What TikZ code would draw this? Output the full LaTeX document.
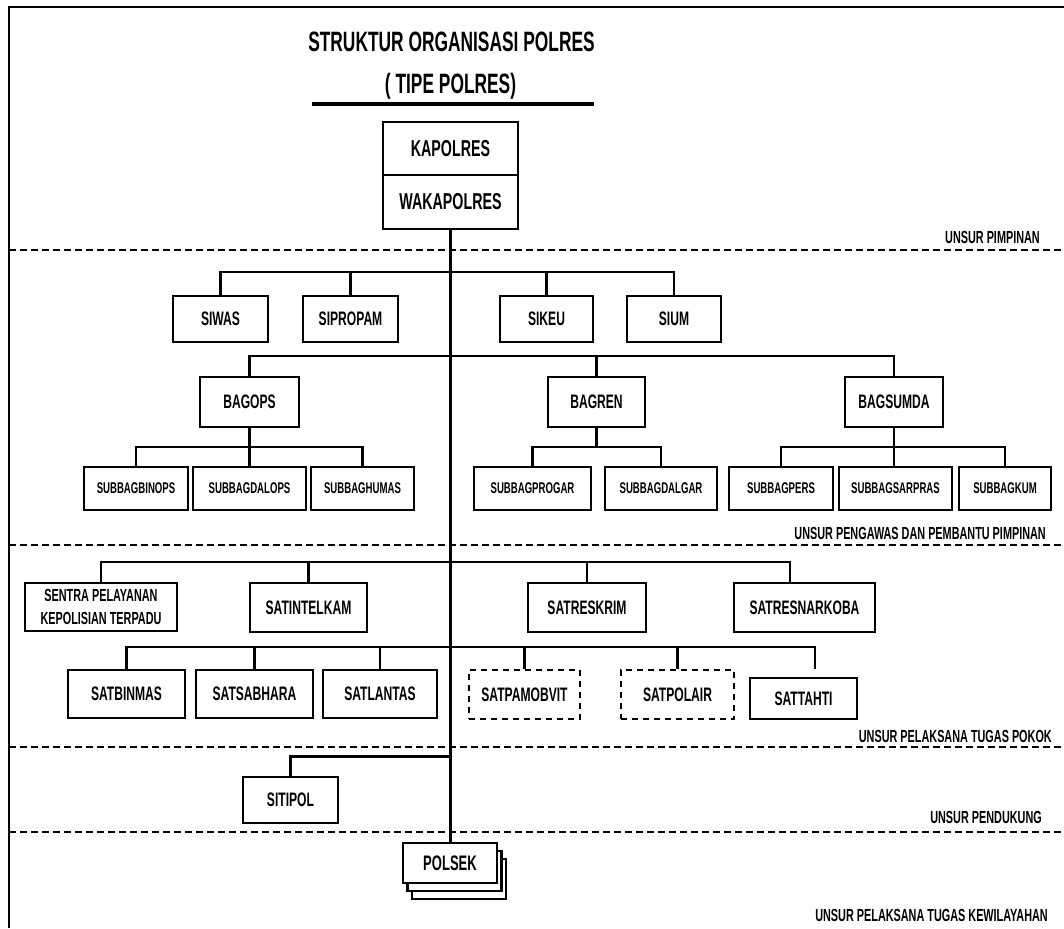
\documentclass[tikz,border=0pt]{standalone}
\usepackage{fontspec}
\setmainfont{Liberation Sans}[FakeStretch=0.62]
\begin{document}
\begin{tikzpicture}[x=1pt,y=-1pt,
  box/.style={draw, line width=2.6pt, inner sep=0pt, align=center, fill=white,
    font=\bfseries\fontsize{19.5}{21}\selectfont},
  sbox/.style={box, minimum height=43pt, font=\bfseries\fontsize{15.5}{17}\selectfont},
  dbox/.style={box, dash pattern=on 6pt off 5pt, line width=2.2pt},
  conn/.style={line width=2.2pt},
  sep/.style={line width=2pt, dash pattern=on 7pt off 4pt},
  unsur/.style={anchor=east, inner sep=0pt, font=\bfseries\fontsize{17.5}{19}\selectfont},
  titlef/.style={inner sep=0pt, font=\bfseries\fontsize{28}{30}\selectfont}]
\useasboundingbox (0,0) rectangle (1064,928);
% frame
\coordinate (fbl) at (9,928);
\coordinate (ftl) at (9,7);
\coordinate (ftr) at (1064,7);
\draw[line width=2.5pt] (fbl) -- (ftl) -- (ftr);
% title
\node[titlef] (title1) at (451.5,42) {STRUKTUR ORGANISASI POLRES};
\node[titlef] (title2) at (450.5,86) {( TIPE POLRES)};
\coordinate (ul1) at (312,104);
\coordinate (ul2) at (594,104);
\draw[line width=3.5pt] (ul1) -- (ul2);
% separators
\foreach \yy/\nm in {250/s1,545/s2,747/s3,832/s4}{
  \coordinate (\nm l) at (9,\yy);
  \coordinate (\nm r) at (1064,\yy);
  \draw[sep] (\nm l) -- (\nm r);
}
\node[unsur] (u1) at (1040,237) {UNSUR PIMPINAN};
\node[unsur] (u2) at (1046,533) {UNSUR PENGAWAS DAN PEMBANTU PIMPINAN};
\node[unsur] (u3) at (1052,736) {UNSUR PELAKSANA TUGAS POKOK};
\node[unsur] (u4) at (1042,817) {UNSUR PENDUKUNG};
\node[unsur] (u5) at (1048,915) {UNSUR PELAKSANA TUGAS KEWILAYAHAN};
% head
\node[box, minimum width=135pt, minimum height=53pt, font=\bfseries\fontsize{23}{25}\selectfont] (kap) at (450.5,148.5) {KAPOLRES};
\node[box, minimum width=135pt, minimum height=54pt, font=\bfseries\fontsize{23}{25}\selectfont] (waka) at (450.5,202) {WAKAPOLRES};
% row 1
\node[box, minimum width=95pt, minimum height=46pt] (siwas) at (220.5,319) {SIWAS};
\node[box, minimum width=95pt, minimum height=46pt] (sipropam) at (350.5,319) {SIPROPAM};
\node[box, minimum width=93pt, minimum height=46pt] (sikeu) at (546.5,319) {SIKEU};
\node[box, minimum width=94pt, minimum height=46pt] (sium) at (674,319) {SIUM};
% row 2
\node[box, minimum width=99pt, minimum height=50pt] (bagops) at (249.5,402) {BAGOPS};
\node[box, minimum width=97pt, minimum height=50pt] (bagren) at (596.5,402) {BAGREN};
\node[box, minimum width=98pt, minimum height=50pt] (bagsumda) at (894,402) {BAGSUMDA};
% subbag
\node[sbox, minimum width=104pt] (binops) at (136,488.5) {SUBBAGBINOPS};
\node[sbox, minimum width=113pt] (dalops) at (249.5,488.5) {SUBBAGDALOPS};
\node[sbox, minimum width=103pt] (humas) at (362.5,488.5) {SUBBAGHUMAS};
\node[sbox, minimum width=117pt] (progar) at (532.5,488.5) {SUBBAGPROGAR};
\node[sbox, minimum width=112pt] (dalgar) at (661,488.5) {SUBBAGDALGAR};
\node[sbox, minimum width=104pt] (pers) at (781,488.5) {SUBBAGPERS};
\node[sbox, minimum width=113pt] (sarpras) at (895.5,488.5) {SUBBAGSARPRAS};
\node[sbox, minimum width=92pt] (kum) at (1005,488.5) {SUBBAGKUM};
% row 3
\node[box, minimum width=152pt, minimum height=48pt, font=\bfseries\fontsize{17.5}{23}\selectfont] (sentra) at (101,607) {SENTRA PELAYANAN\\KEPOLISIAN TERPADU};
\node[box, minimum width=117pt, minimum height=49pt] (intel) at (308.5,607.5) {SATINTELKAM};
\node[box, minimum width=118pt, minimum height=49pt] (reskrim) at (587,607.5) {SATRESKRIM};
\node[box, minimum width=141pt, minimum height=49pt] (narkoba) at (804.5,607.5) {SATRESNARKOBA};
% row 4
\node[box, minimum width=117pt, minimum height=48pt] (binmas) at (126.5,694) {SATBINMAS};
\node[box, minimum width=117pt, minimum height=48pt] (sabhara) at (254.5,694) {SATSABHARA};
\node[box, minimum width=114pt, minimum height=48pt] (lantas) at (380,694) {SATLANTAS};
\node[dbox, minimum width=111pt, minimum height=49pt] (pamobvit) at (524.5,694.5) {SATPAMOBVIT};
\node[dbox, minimum width=113pt, minimum height=49pt] (polair) at (677.5,694.5) {SATPOLAIR};
\node[box, minimum width=107pt, minimum height=41pt] (tahti) at (803.5,698.5) {SATTAHTI};
% sitipol
\node[box, minimum width=95pt, minimum height=46pt] (sitipol) at (290.5,800) {SITIPOL};
% polsek stack
\node[box, line width=2.2pt, minimum width=94pt, minimum height=40pt] (polsekc) at (459,879) {};
\node[box, line width=2.2pt, minimum width=94pt, minimum height=40pt] (polsekb) at (454.5,871) {};
\node[box, line width=2.2pt, minimum width=94pt, minimum height=40pt, font=\bfseries\fontsize{21}{23}\selectfont] (polsek) at (450,863) {POLSEK};
% trunk
\draw[conn] (waka.south) -- (waka.south |- polsek.north);
% bus 1
\coordinate (b1) at (451,272);
\draw[conn] (siwas.north) |- (sium.north |- b1) -- (sium.north);
\draw[conn] (sipropam.north) -- (sipropam.north |- b1);
\draw[conn] (sikeu.north) -- (sikeu.north |- b1);
% bus 2
\coordinate (b2) at (451,356);
\draw[conn] (bagops.north) |- (bagsumda.north |- b2) -- (bagsumda.north);
\draw[conn] (bagren.north) -- (bagren.north |- b2);
% sub buses
\coordinate (sb) at (451,447);
\draw[conn] (bagops.south) -- (bagops.south |- dalops.north);
\draw[conn] (binops.north) |- (humas.north |- sb) -- (humas.north);
\draw[conn] (bagren.south) -- (bagren.south |- sb);
\draw[conn] (progar.north) |- (dalgar.north |- sb) -- (dalgar.north);
\draw[conn] (bagsumda.south) -- (bagsumda.south |- sarpras.north);
\draw[conn] (pers.north) |- (kum.north |- sb) -- (kum.north);
% bus 3
\coordinate (b3r) at (790,562);
\draw[conn] (sentra.north) |- (b3r) -- (b3r |- narkoba.north);
\draw[conn] (intel.north) -- (intel.north |- b3r);
\draw[conn] (reskrim.north) -- (reskrim.north |- b3r);
% bus 4
\coordinate (b4r) at (815,647);
\coordinate (tahtiend) at (815,669);
\draw[conn] (binmas.north) |- (b4r) -- (tahtiend);
\draw[conn] (sabhara.north) -- (sabhara.north |- b4r);
\draw[conn] (lantas.north) -- (lantas.north |- b4r);
\draw[conn] (pamobvit.north) -- (pamobvit.north |- b4r);
\draw[conn] (polair.north) -- (polair.north |- b4r);
% sitipol
\coordinate (b5) at (451,756);
\draw[line width=3pt] (sitipol.north) |- (b5);
\end{tikzpicture}
\end{document}
